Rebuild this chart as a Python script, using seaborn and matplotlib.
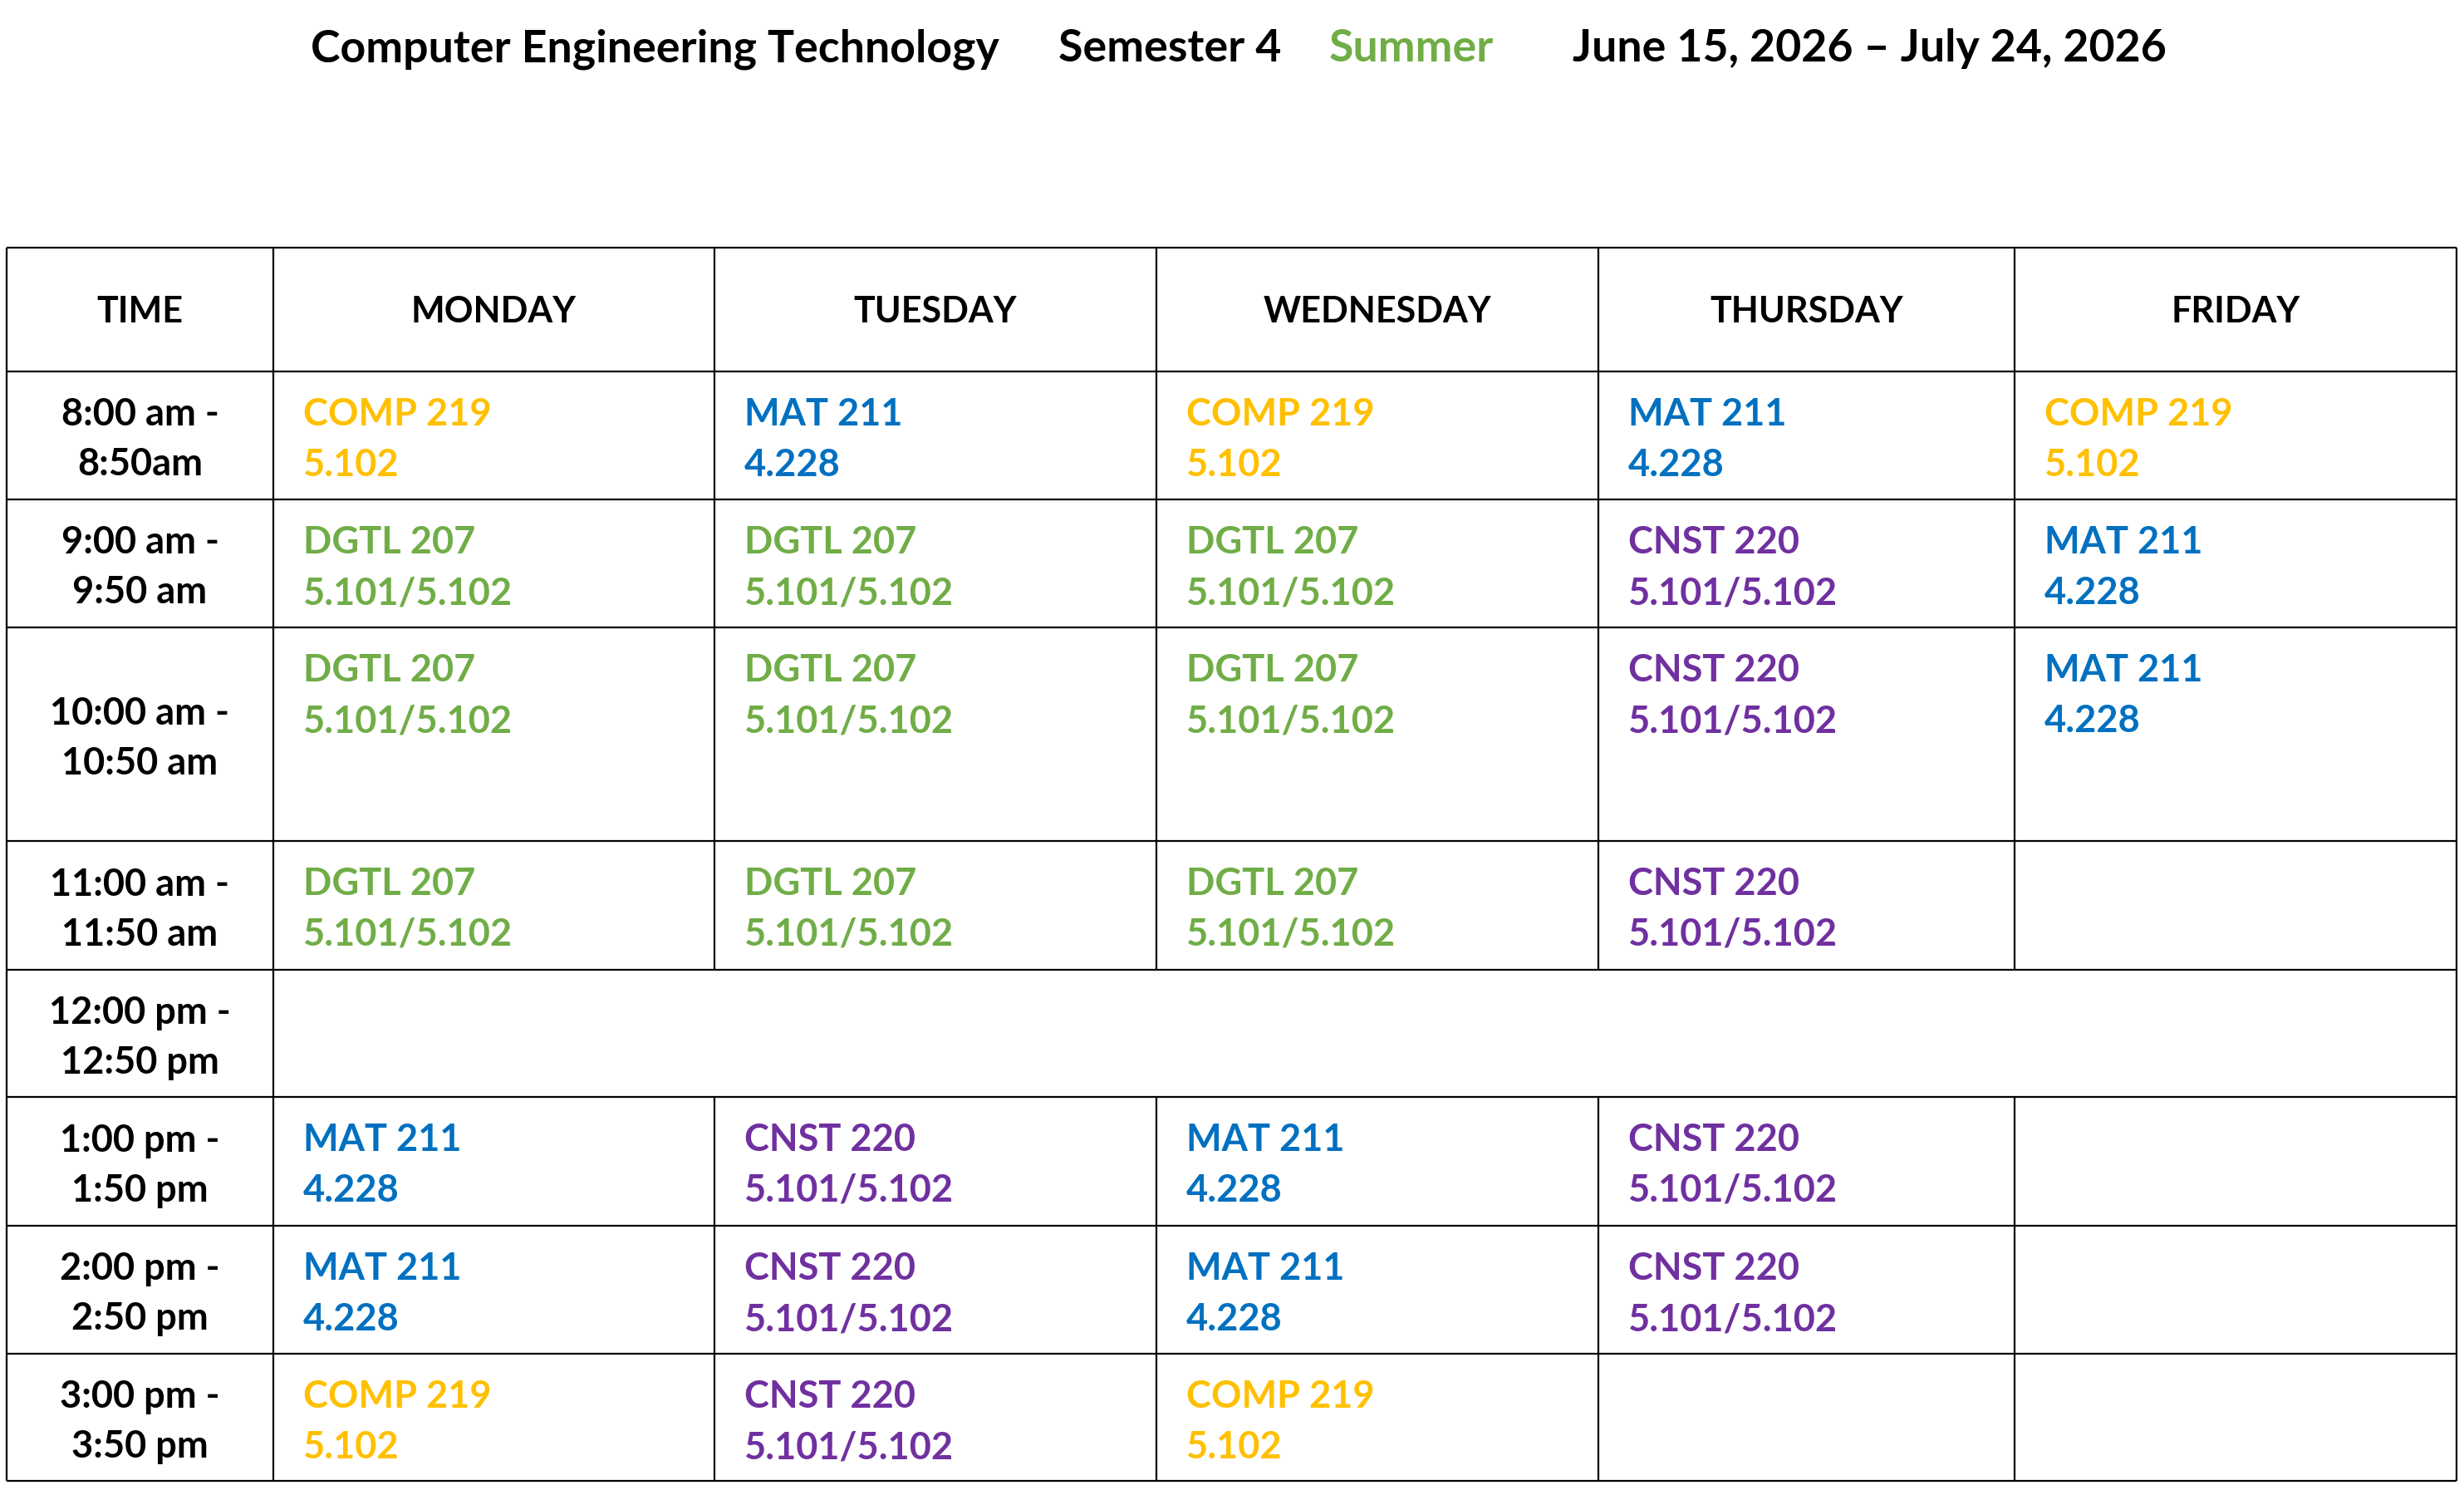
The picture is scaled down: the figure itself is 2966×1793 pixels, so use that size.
import matplotlib.pyplot as plt
import seaborn as sns

# schedule data
title_parts = ["Computer Engineering Technology", "Semester 4", "Summer",
               "June 15, 2026 \u2013 July 24, 2026"]
title_colors = ["black", "black", "#70AD47", "black"]

days = ["MONDAY", "TUESDAY", "WEDNESDAY", "THURSDAY", "FRIDAY"]
times = ["8:00 am -\n8:50am", "9:00 am -\n9:50 am", "10:00 am -\n10:50 am",
         "11:00 am -\n11:50 am", "12:00 pm -\n12:50 pm", "1:00 pm -\n1:50 pm",
         "2:00 pm -\n2:50 pm", "3:00 pm -\n3:50 pm"]

monday = ["COMP 219", "DGTL 207", "DGTL 207", "DGTL 207", None, "MAT 211", "MAT 211", "COMP 219"]
tuesday = ["MAT 211", "DGTL 207", "DGTL 207", "DGTL 207", None, "CNST 220", "CNST 220", "CNST 220"]
wednesday = ["COMP 219", "DGTL 207", "DGTL 207", "DGTL 207", None, "MAT 211", "MAT 211", "COMP 219"]
thursday = ["MAT 211", "CNST 220", "CNST 220", "CNST 220", None, "CNST 220", "CNST 220", None]
friday = ["COMP 219", "MAT 211", "MAT 211", None, None, None, None, None]

rooms = {"COMP 219": "5.102", "MAT 211": "4.228",
         "DGTL 207": "5.101/5.102", "CNST 220": "5.101/5.102"}
course_colors = {"COMP 219": "#FFC000", "MAT 211": "#0070C0",
                 "DGTL 207": "#70AD47", "CNST 220": "#7030A0"}
lunch_row = 4

# layout (pixels)
W, H = 2966, 1793
col_edges = [8, 329, 860, 1392, 1924, 2425, 2957]
row_edges = [298, 447, 601, 755, 1012, 1167, 1320, 1475, 1629, 1782]
title_x = [374, 1274, 1600, 1893]
title_y = 74
fs = 32.5
head_fs = 31
lw = 1.6

sns.set_theme(style="white")
plt.rcParams['font.family'] = ['Lato', 'DejaVu Sans']

fig = plt.figure(figsize=(W / 100, H / 100), dpi=100)
ax = fig.add_axes([0, 0, 1, 1])
ax.set_xlim(0, W)
ax.set_ylim(H, 0)
ax.axis('off')

# title
for txt, x, c in zip(title_parts, title_x, title_colors):
    ax.text(x, title_y, txt, color=c, fontsize=38.6, fontweight='bold',
            ha='left', va='baseline')

# grid lines (lunch row is one merged cell across the days)
top, bottom = row_edges[0], row_edges[-1]
lunch_top, lunch_bot = row_edges[lunch_row + 1], row_edges[lunch_row + 2]
for y in row_edges:
    ax.hlines(y, col_edges[0], col_edges[-1], color='black', lw=lw)
for i, x in enumerate(col_edges):
    if 2 <= i <= len(col_edges) - 2:
        ax.vlines(x, top, lunch_top, color='black', lw=lw)
        ax.vlines(x, lunch_bot, bottom, color='black', lw=lw)
    else:
        ax.vlines(x, top, bottom, color='black', lw=lw)

# header
hy = (row_edges[0] + row_edges[1]) / 2 + 16
ax.text((col_edges[0] + col_edges[1]) / 2, hy, "TIME", fontsize=head_fs,
        fontweight='bold', ha='center', va='baseline', color='black')
for j, d in enumerate(days):
    ax.text((col_edges[j + 1] + col_edges[j + 2]) / 2, hy, d, fontsize=head_fs,
            fontweight='bold', ha='center', va='baseline', color='black')

# time column
tx = (col_edges[0] + col_edges[1]) / 2
for i, t in enumerate(times):
    mid = (row_edges[i + 1] + row_edges[i + 2]) / 2
    l1, l2 = t.split("\n")
    ax.text(tx, mid - 12, l1, fontsize=fs, fontweight='bold', ha='center',
            va='baseline', color='black')
    ax.text(tx, mid + 48, l2, fontsize=fs, fontweight='bold', ha='center',
            va='baseline', color='black')

# course cells
for j, col in enumerate([monday, tuesday, wednesday, thursday, friday]):
    x = col_edges[j + 1] + 36
    for i, course in enumerate(col):
        if course is None:
            continue
        y0 = row_edges[i + 1]
        c = course_colors[course]
        ax.text(x, y0 + 65, course, fontsize=fs, fontweight='bold',
                ha='left', va='baseline', color=c)
        ax.text(x, y0 + 126, rooms[course], fontsize=fs, fontweight='bold',
                ha='left', va='baseline', color=c)

fig.savefig("out.png", dpi=100, facecolor='white')
